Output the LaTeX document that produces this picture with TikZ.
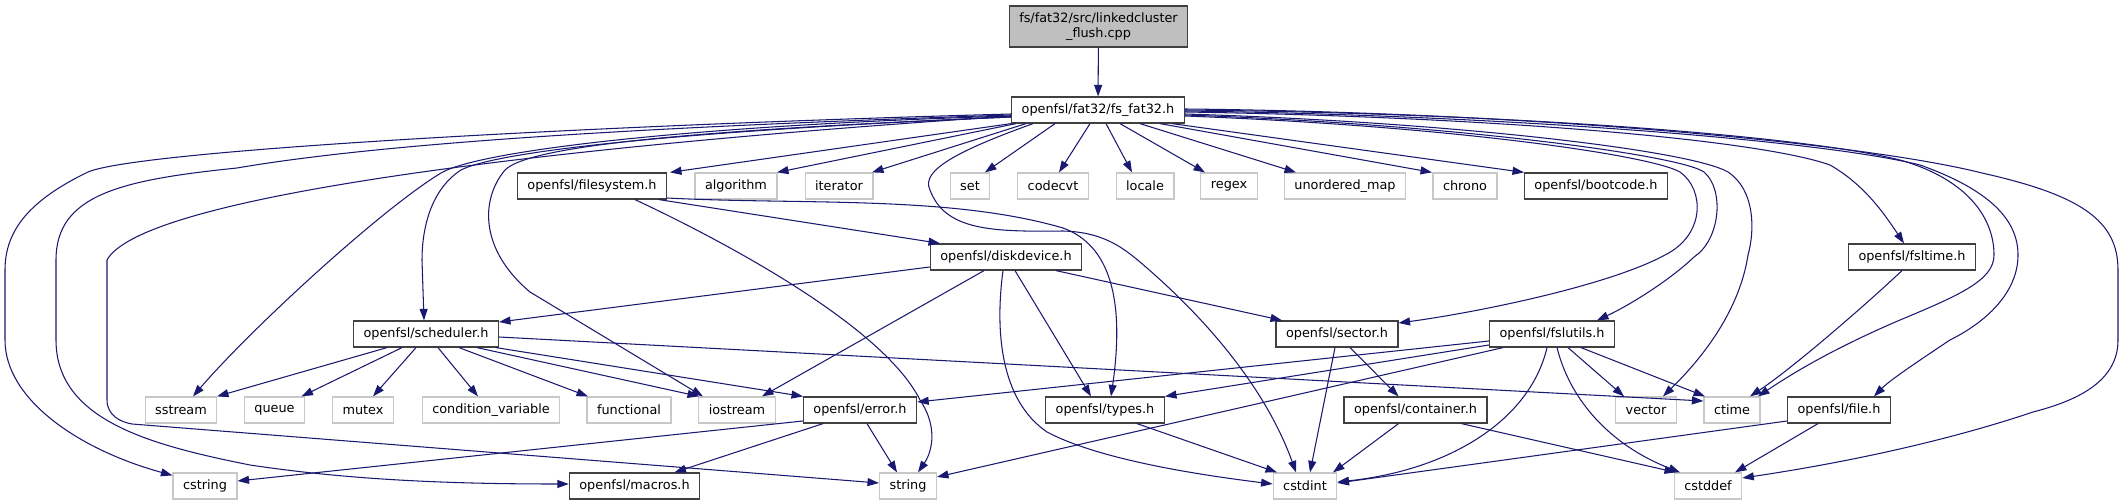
\documentclass[tikz,border=0pt]{standalone}
\usepackage{fontspec}
\setmainfont{DejaVu Sans}
\usetikzlibrary{arrows.meta}
\definecolor{edgeblue}{RGB}{25,25,112}
\definecolor{rootgray}{RGB}{191,191,191}
\definecolor{sysgray}{RGB}{200,200,200}

\begin{document}
\begin{tikzpicture}[x=0.02cm,y=-0.02cm,
  box/.style={draw=black!75,fill=white,line width=0.7pt,font=\fontsize{7.3}{8.5}\selectfont,
    minimum height=0.52cm,inner xsep=0.2cm,inner ysep=0pt},
  sysbox/.style={box,draw=sysgray},
  rootbox/.style={box,fill=rootgray,align=center,minimum height=0.82cm},
  dep/.style={draw=edgeblue,line width=0.6pt,-{Triangle[length=0.23cm,width=0.16cm]}}]
  \useasboundingbox (0,0) rectangle (2123,500);

  % files
  \node[rootbox] (root) at (1098.5,26.5) {fs/fat32/src/linkedcluster\\\_flush.cpp};
  \node[box] (fat) at (1098,110) {openfsl/fat32/fs\_fat32.h};

  \node[box] (filesystem) at (592,186) {openfsl/filesystem.h};
  \node[sysbox] (algorithm) at (736,186) {algorithm};
  \node[sysbox] (iterator) at (839,186) {iterator};
  \node[sysbox] (set) at (970,186) {set};
  \node[sysbox] (codecvt) at (1053,186) {codecvt};
  \node[sysbox] (locale) at (1145,186) {locale};
  \node[sysbox] (regex) at (1229,186) {regex};
  \node[sysbox] (umap) at (1345,186) {unordered\_map};
  \node[sysbox] (chrono) at (1465,186) {chrono};
  \node[box] (bootcode) at (1596,186) {openfsl/bootcode.h};

  \node[box] (diskdevice) at (1006,257) {openfsl/diskdevice.h};
  \node[box] (fsltime) at (1912,257) {openfsl/fsltime.h};

  \node[box] (scheduler) at (426,334) {openfsl/scheduler.h};
  \node[box] (sector) at (1337,334) {openfsl/sector.h};
  \node[box] (fslutils) at (1552,334) {openfsl/fslutils.h};

  \node[sysbox] (sstream) at (181,410) {sstream};
  \node[sysbox] (queue) at (274.5,410) {queue};
  \node[sysbox] (mutex) at (363,410) {mutex};
  \node[sysbox] (condvar) at (491,410) {condition\_variable};
  \node[sysbox] (functional) at (629,410) {functional};
  \node[sysbox] (iostream) at (737,410) {iostream};
  \node[box] (error) at (860,410) {openfsl/error.h};
  \node[box] (types) at (1105,410) {openfsl/types.h};
  \node[box] (container) at (1415.5,410) {openfsl/container.h};
  \node[sysbox] (vector) at (1646,410) {vector};
  \node[sysbox] (ctime) at (1732,410) {ctime};
  \node[box] (file) at (1839,410) {openfsl/file.h};

  \node[sysbox] (cstring) at (205,486) {cstring};
  \node[box] (macros) at (634.5,486) {openfsl/macros.h};
  \node[sysbox] (string) at (908,486) {string};
  \node[sysbox] (cstdint) at (1305,486) {cstdint};
  \node[sysbox] (cstddef) at (1708,486) {cstddef};

  % includes
  \draw[dep] (root) -- (fat);

  \draw[dep] ([shift={(0,4)}]fat.west) .. controls (600,125) and (140,150) .. (88,172)
    .. controls (30,200) and (5,230) .. (5,270) -- (5,340)
    .. controls (5,400) and (80,450) .. ([shift={(0,3)}]cstring.north west);
  \draw[dep] ([shift={(0,5)}]fat.west) .. controls (700,125) and (400,140) .. (237,168)
    .. controls (120,180) and (56,195) .. (56,260) -- (56,340)
    .. controls (56,420) and (150,445) .. (250,465)
    .. controls (350,480) and (450,484) .. ([shift={(0,-2)}]macros.west);
  \draw[dep] ([shift={(0,6)}]fat.west) .. controls (500,150) and (140,200) .. (107,260)
    -- (107,400) .. controls (107,415) and (120,422) .. (132,424)
    -- ([shift={(0,-3)}]string.west);
  \draw[dep] ([shift={(0,6)}]fat.west) .. controls (700,125) and (480,150) .. (441,173)
    .. controls (380,210) and (250,330) .. ([shift={(12,0)}]sstream.north);
  \draw[dep] ([shift={(0,7)}]fat.west) .. controls (700,130) and (500,150) .. (461,170)
    .. controls (430,190) and (422,230) .. (422,260) -- ([shift={(-2,0)}]scheduler.north);
  \draw[dep] ([shift={(0,7)}]fat.west) .. controls (700,130) and (530,145) .. (505,170)
    .. controls (480,200) and (480,250) .. (530,292) -- ([shift={(-34,0)}]iostream.north);

  \draw[dep] (fat.south west) -- ([shift={(78,0)}]filesystem.north);
  \draw[dep] ([shift={(-82,0)}]fat.south) -- ([shift={(41,0)}]algorithm.north);
  \draw[dep] ([shift={(-72,0)}]fat.south) -- ([shift={(33,0)}]iterator.north);
  \draw[dep] ([shift={(-43,0)}]fat.south) -- ([shift={(15,0)}]set.north);
  \draw[dep] ([shift={(-8,0)}]fat.south) -- ([shift={(6,0)}]codecvt.north);
  \draw[dep] ([shift={(8,0)}]fat.south) -- ([shift={(-13,0)}]locale.north);
  \draw[dep] ([shift={(22,0)}]fat.south) -- ([shift={(-24,0)}]regex.north);
  \draw[dep] ([shift={(42,0)}]fat.south) -- ([shift={(-49,0)}]umap.north);
  \draw[dep] ([shift={(62,0)}]fat.south) -- ([shift={(-33,0)}]chrono.north);
  \draw[dep] ([shift={(74,0)}]fat.south) -- ([shift={(-72,0)}]bootcode.north);

  \draw[dep] ([shift={(-65,0)}]fat.south) .. controls (960,150) and (920,170) .. (930,190)
    .. controls (945,230) and (990,232) .. (1063,231)
    .. controls (1100,232) and (1120,245) .. (1140,262)
    .. controls (1220,330) and (1270,400) .. ([shift={(-9,0)}]cstdint.north);

  \draw[dep] ([shift={(0,-1)}]fat.east) .. controls (1500,112) and (1850,140) .. (1982,173)
    .. controls (2080,195) and (2118,220) .. (2118,270) -- (2118,340)
    .. controls (2118,380) and (2080,400) .. (2033,412)
    .. controls (1950,440) and (1850,462) .. ([shift={(0,-8)}]cstddef.east);
  \draw[dep] (fat.east) .. controls (1500,113) and (1800,135) .. (1900,160)
    .. controls (1970,180) and (1994,220) .. (1994,255)
    .. controls (1994,280) and (1960,295) .. (1900,320)
    .. controls (1830,350) and (1790,375) .. ([shift={(26,0)}]ctime.north);
  \draw[dep] ([shift={(0,1)}]fat.east) .. controls (1500,115) and (1820,140) .. (1920,165)
    .. controls (1990,190) and (2018,220) .. (2018,255)
    .. controls (2018,290) and (1990,320) .. (1950,340)
    .. controls (1920,360) and (1890,380) .. ([shift={(35,0)}]file.north);
  \draw[dep] ([shift={(0,2)}]fat.east) .. controls (1500,117) and (1760,140) .. (1830,165)
    .. controls (1865,185) and (1885,215) .. ([shift={(-8,0)}]fsltime.north);
  \draw[dep] ([shift={(0,4)}]fat.east) .. controls (1450,122) and (1690,150) .. (1728,172)
    .. controls (1755,190) and (1755,230) .. (1748,255)
    .. controls (1738,320) and (1690,370) .. ([shift={(17,0)}]vector.north);
  \draw[dep] ([shift={(0,5)}]fat.east) .. controls (1450,124) and (1680,155) .. (1704,172)
    .. controls (1725,190) and (1720,240) .. (1694,257)
    .. controls (1670,280) and (1630,305) .. ([shift={(45,0)}]fslutils.north);
  \draw[dep] ([shift={(0,6)}]fat.east) .. controls (1450,126) and (1650,155) .. (1680,172)
    .. controls (1705,190) and (1705,235) .. (1665,255)
    .. controls (1610,285) and (1480,312) .. ([shift={(0,-11)}]sector.east);

  \draw[dep] ([shift={(0,12)}]filesystem.east) .. controls (800,205) and (950,195) .. (1063,228)
    .. controls (1110,245) and (1125,300) .. ([shift={(6,0)}]types.north);
  \draw[dep] ([shift={(67,0)}]filesystem.south) -- ([shift={(-66,0)}]diskdevice.north);
  \draw[dep] ([shift={(43,0)}]filesystem.south) .. controls (700,230) and (880,320) .. (920,400)
    .. controls (940,430) and (930,455) .. ([shift={(10,0)}]string.north);

  \draw[dep] ([shift={(0,10)}]diskdevice.west) -- ([shift={(0,-12)}]scheduler.east);
  \draw[dep] ([shift={(-22,0)}]diskdevice.south) -- ([shift={(25,0)}]iostream.north);
  \draw[dep] ([shift={(-3,0)}]diskdevice.south) .. controls (995,330) and (1000,400) .. (1047,432)
    .. controls (1100,460) and (1200,475) .. ([shift={(0,-2)}]cstdint.west);
  \draw[dep] ([shift={(9,0)}]diskdevice.south) -- ([shift={(-14,0)}]types.north);
  \draw[dep] ([shift={(50,0)}]diskdevice.south) -- ([shift={(-55,0)}]sector.north);

  \draw[dep] ([shift={(-39,0)}]scheduler.south) -- ([shift={(36,0)}]sstream.north);
  \draw[dep] ([shift={(-24,0)}]scheduler.south) -- ([shift={(27,0)}]queue.north);
  \draw[dep] ([shift={(-10,0)}]scheduler.south) -- ([shift={(10,0)}]mutex.north);
  \draw[dep] ([shift={(12,0)}]scheduler.south) -- ([shift={(-13,0)}]condvar.north);
  \draw[dep] ([shift={(33,0)}]scheduler.south) -- ([shift={(-41,0)}]functional.north);
  \draw[dep] ([shift={(51,0)}]scheduler.south) -- ([shift={(-38,0)}]iostream.north);
  \draw[dep] ([shift={(70,0)}]scheduler.south) -- ([shift={(-57,0)}]error.north);
  \draw[dep] ([shift={(0,3)}]scheduler.east) -- ([shift={(0,-9)}]ctime.west);

  \draw[dep] ([shift={(0,11)}]error.west) -- ([shift={(0,-5)}]cstring.east);
  \draw[dep] ([shift={(-37,0)}]error.south) -- ([shift={(40,0)}]macros.north);
  \draw[dep] ([shift={(7,0)}]error.south) -- ([shift={(-11,0)}]string.north);

  \draw[dep] ([shift={(0,7)}]fslutils.west) -- ([shift={(0,-8)}]error.east);
  \draw[dep] ([shift={(0,11)}]fslutils.west) -- ([shift={(60,0)}]types.north);
  \draw[dep] ([shift={(-49,0)}]fslutils.south) -- ([shift={(0,-9)}]string.east);
  \draw[dep] ([shift={(-5,0)}]fslutils.south) .. controls (1530,420) and (1450,470) .. ([shift={(0,-4)}]cstdint.east);
  \draw[dep] ([shift={(5,0)}]fslutils.south) .. controls (1570,400) and (1610,445) .. ([shift={(-28,0)}]cstddef.north);
  \draw[dep] ([shift={(16,0)}]fslutils.south) -- ([shift={(-22,0)}]vector.north);
  \draw[dep] ([shift={(29,0)}]fslutils.south) -- ([shift={(-27,0)}]ctime.north);

  \draw[dep] ([shift={(-2,0)}]sector.south) -- ([shift={(5,0)}]cstdint.north);
  \draw[dep] ([shift={(13,0)}]sector.south) -- ([shift={(-17,0)}]container.north);

  \draw[dep] ([shift={(32,0)}]types.south) -- ([shift={(-28,0)}]cstdint.north);
  \draw[dep] ([shift={(-17,0)}]container.south) -- ([shift={(28,0)}]cstdint.north);
  \draw[dep] ([shift={(46,0)}]container.south) -- ([shift={(-32,0)}]cstddef.north);
  \draw[dep] ([shift={(-10,0)}]fsltime.south) .. controls (1860,310) and (1790,370) .. ([shift={(18,0)}]ctime.north);
  \draw[dep] ([shift={(0,11)}]file.west) -- ([shift={(0,-3)}]cstdint.east);
  \draw[dep] ([shift={(-21,0)}]file.south) -- ([shift={(27,0)}]cstddef.north);
\end{tikzpicture}
\end{document}
